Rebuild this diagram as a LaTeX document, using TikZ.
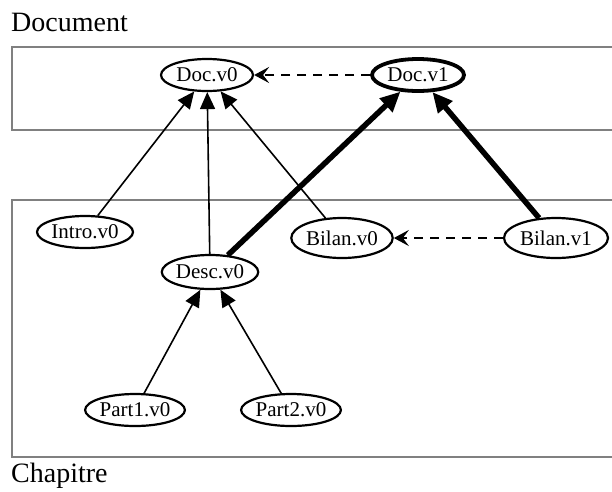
\documentclass[tikz,border=0pt]{standalone}
\usepackage{fontspec}
\setmainfont{Liberation Serif}
\usetikzlibrary{positioning,arrows.meta,shapes.geometric}

\begin{document}
\begin{tikzpicture}[x=1pt,y=-1pt,
cluster/.style={draw=gray,line width=2.6pt},
version/.style={ellipse,draw,line width=2.2pt,inner sep=0pt,minimum width=92pt,minimum height=32pt,font=\fontsize{21}{23}\selectfont},
uses/.style={-{Triangle[length=17pt,width=15pt]},line width=1.6pt},
current/.style={-{Triangle[length=20pt,width=18pt]},line width=5.5pt},
previous/.style={-{Stealth[length=15pt,width=16pt,inset=6pt]},line width=2.6pt,dash pattern=on 9pt off 7pt}]
\useasboundingbox (0,0) rectangle (612,491);
% clusters
\draw[cluster] (12,47) rectangle (618,130);
\draw[cluster] (12,200) rectangle (618,457);
\node (doclabel) [anchor=west,inner sep=0pt,font=\fontsize{28}{30}\selectfont] at (11,22) {Document};
\node (chaplabel) [anchor=west,inner sep=0pt,font=\fontsize{28}{30}\selectfont] at (11,476) {Chapitre};
% versions
\node (docv0) [version] at (207,75) {Doc.v0};
\node (docv1) [version,line width=3.8pt] at (418,75) {Doc.v1};
\node (introv0) [version,minimum width=96pt] at (85,232) {Intro.v0};
\node (bilanv0) [version,minimum width=100pt,minimum height=40pt] at (342,238) {Bilan.v0};
\node (bilanv1) [version,minimum width=104pt,minimum height=40pt] at (556,238) {Bilan.v1};
\node (descv0) [version,minimum width=94pt,minimum height=34pt] at (210,272) {Desc.v0};
\node (part1v0) [version,minimum width=96pt] at (135,410) {Part1.v0};
\node (part2v0) [version] at (291,410) {Part2.v0};
% edges
\draw[uses] (introv0) -- (docv0);
\draw[uses] (descv0) -- (docv0);
\draw[uses] (bilanv0) -- (docv0);
\draw[uses] (part1v0) -- (descv0);
\draw[uses] (part2v0) -- (descv0);
\draw[current] (descv0) -- (docv1);
\draw[current] (bilanv1) -- (docv1);
\draw[previous] (docv1) -- (docv0);
\draw[previous] (bilanv1) -- (bilanv0);
\end{tikzpicture}
\end{document}
